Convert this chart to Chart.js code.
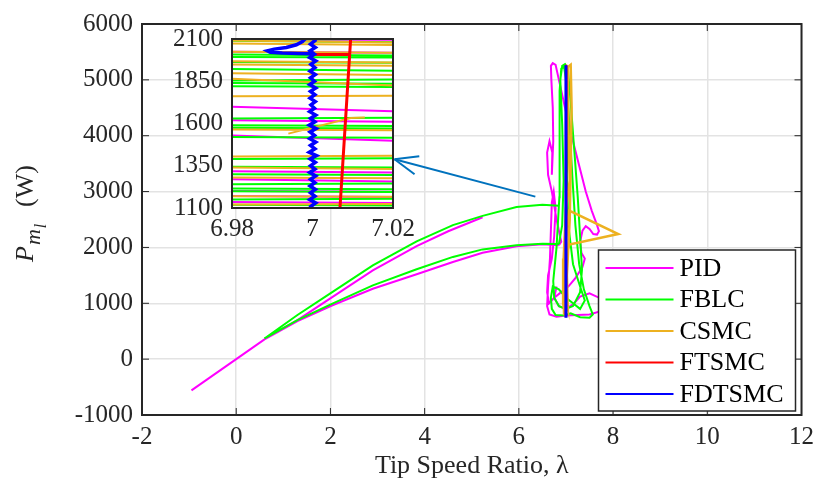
<!DOCTYPE html>
<html>
<head>
<meta charset="utf-8">
<script src="https://cdn.jsdelivr.net/npm/chart.js@4.4.1/dist/chart.umd.min.js"></script>
<style>
body { margin: 0; background: #fff; }
#wrap { position: relative; width: 821px; height: 491px; }
#wrap canvas { position: absolute; left: 0; top: 0; }
</style>
</head>
<body>
<div id="wrap">
<canvas id="mainChart" width="821" height="491"></canvas>
<canvas id="insetChart" width="821" height="491"></canvas>
</div>
<script>
const seriesNames = ['PID', 'FBLC', 'CSMC', 'FTSMC', 'FDTSMC'];
const seriesColors = ['#ff00ff', '#00ff00', '#edb120', '#ff0000', '#0000ff'];

const xTicksMain = [-2, 0, 2, 4, 6, 8, 10, 12];
const yTicksMain = [-1000, 0, 1000, 2000, 3000, 4000, 5000, 6000];
const xTicksInset = [6.98, 7, 7.02];
const yTicksInset = [1100, 1350, 1600, 1850, 2100];

// arrow from the cluster to the zoom box, in (lambda, P)
const arrowTail = [6.35, 2910];
const arrowHead = [3.36, 3578];

// main trajectories: [lambda, P], null breaks the line
const pidBranches = [
    [5.23, 2540], [4.5, 2290], [3.83, 2025], [2.9, 1590], [2.03, 1105], [1.3, 700], [0.6, 355], [0, 0], [-0.95, -560], null,
    [0.6, 355], [1.3, 680], [2.03, 960], [2.9, 1260], [3.83, 1520], [4.6, 1740], [5.23, 1905], [5.95, 2020], [6.5, 2055], [6.85, 2040]
];
const pidCluster = [
    [6.85, 2040], [6.9, 2100], [6.8, 2500], [6.7, 3000], [6.62, 3300], [6.6, 3700], [6.65, 3900], [6.71, 3700], [6.7, 3300],
    [6.73, 3900], [6.72, 4500], [6.69, 5000], [6.68, 5250], [6.72, 5300], [6.78, 5270], [6.85, 5000], [6.98, 4500], [7.12, 4000],
    [7.27, 3500], [7.42, 3000], [7.55, 2650], [7.66, 2400], [7.7, 2290], [7.66, 2230], [7.58, 2240], [7.5, 2330], [7.42, 2380],
    [7.35, 2300], [7.3, 2100], [7.33, 1900], [7.4, 1800], [7.35, 1650], [7.2, 1450], [7.05, 1300], [6.9, 1200], [6.75, 1100],
    [6.64, 1000], [6.6, 1200], [6.62, 1500], [6.7, 1800], [6.75, 2200], [6.78, 2700], [6.74, 3000], [6.7, 2800], [6.68, 2300],
    [6.66, 1800], [6.62, 1300], [6.6, 950], [6.65, 800], [6.8, 760], [7.0, 780], [7.25, 790], [7.5, 800], [7.7, 850], [7.78, 950],
    [7.7, 1100], [7.5, 1180], [7.3, 1120], [7.15, 980], [7.0, 900], [6.85, 950], [6.75, 1100], [6.8, 1300]
];
const fblcBranches = [
    [6.85, 2745], [6.5, 2762], [5.95, 2725], [5.23, 2565], [4.6, 2400], [3.83, 2110], [2.9, 1680], [2.03, 1195], [1.3, 790], [0.6, 370],
    [1.3, 700], [2.03, 990], [2.9, 1320], [3.83, 1610], [4.6, 1830], [5.23, 1965], [5.95, 2040], [6.5, 2065], [6.85, 2060]
];
const fblcCluster = [
    [6.85, 2060], [6.92, 2400], [6.95, 3200], [6.92, 4200], [6.88, 5000], [6.92, 5250], [6.98, 5280], [7.04, 5200], [7.1, 4600],
    [7.18, 3700], [7.25, 2900], [7.3, 2200], [7.34, 1600], [7.3, 1200], [7.15, 950], [7.0, 900], [6.85, 950], [6.75, 1100],
    [6.73, 1400], [6.8, 2000], [6.86, 2900], [6.87, 3900], [6.86, 4800], [6.9, 5200], [6.96, 5230], [7.02, 4900], [7.08, 4100],
    [7.14, 3200], [7.2, 2400], [7.28, 1700], [7.38, 1250], [7.5, 950], [7.57, 800], [7.5, 740], [7.3, 750], [7.1, 820], [6.95, 780],
    [6.78, 790], [6.7, 900], [6.68, 1100], [6.72, 1300], [6.85, 1250], [7.0, 1100], [7.15, 1000], [7.3, 900], [7.4, 1050],
    [7.3, 1300], [7.15, 1700], [7.05, 2400], [7.02, 3300], [7.05, 4200], [7.0, 5000], [6.97, 5260]
];
const csmcMain = [
    [6.96, 790], [6.94, 1300], [6.97, 1900], [7.02, 2400], [7.07, 2660], [8.11, 2240], [7.07, 2050], [6.95, 1600], [6.98, 1100],
    [7.04, 900], [7.02, 1500], [7.08, 2500], [7.1, 3500], [7.12, 4500], [7.1, 5270], [7.04, 5230], [7.05, 4200], [7.08, 3200],
    [7.0, 2700], [6.95, 1800], [6.94, 1000], [6.98, 780]
];
const ftsmcMain = [[7.0, 750], [7.005, 5270]];
const fdtsmcMain = [[7.0, 742], [7.0, 5262]];

// zoomed box: lambda 6.98..7.02, P 1100..2100
const pidInset = [
    [6.95, 2095], [7.05, 2095], [7.05, 2015], [6.95, 2028], [6.95, 1718], [7.05, 1653], [7.05, 1604], [6.95, 1626],
    [6.95, 1553], [7.05, 1475], [7.05, 1304], [6.95, 1324], [6.95, 1280], [7.05, 1247], [7.05, 1192], [6.95, 1205],
    [6.95, 1175], [7.05, 1160], [7.05, 1126], [6.95, 1139]
];
const fblcInset = [
    [6.95, 2095], [7.05, 2075], [7.05, 1997], [6.95, 2013], [6.95, 1997], [7.05, 1987], [7.05, 1957], [6.95, 1967],
    [6.95, 1930], [7.05, 1905], [7.05, 1865], [6.95, 1850], [6.95, 1843], [7.05, 1832], [7.05, 1812], [6.95, 1823],
    [6.95, 1627], [7.05, 1638], [7.05, 1582], [6.95, 1593], [6.95, 1578], [7.05, 1567], [7.05, 1512], [6.95, 1523],
    [6.95, 1387], [7.05, 1398], [7.05, 1337], [6.95, 1348], [6.95, 1303], [7.05, 1292], [7.05, 1248], [6.95, 1237],
    [6.95, 1218], [7.05, 1207], [7.05, 1192], [6.95, 1203], [6.95, 1147], [7.05, 1158], [7.05, 1112], [6.95, 1123]
];
const csmcInset = [
    [6.95, 2100], [7.05, 2070], [7.05, 2058], [6.95, 2080], [6.95, 2028], [7.05, 2015], [7.05, 1955], [6.95, 1975],
    [6.95, 1955], [7.05, 1935], [7.05, 1880], [6.95, 1905], [6.95, 1895], [7.05, 1795], [7.05, 1767], [6.95, 1758],
    [6.95, 1567], [7.05, 1557], [7.05, 1413], [6.95, 1402], [6.95, 1345], [7.05, 1325], [7.05, 1272], [6.95, 1285],
    [6.95, 1173], [7.05, 1163], [7.05, 1127], [6.95, 1118], null,
    [6.994, 1540], [7.0095, 1632], [7.013, 1636]
];
const ftsmcInset = [[7.0068, 1090], [7.0095, 2110], null, [7.0005, 2009], [7.0091, 2009]];
const fdtsmcInset = [
    [6.9986, 2110], [6.9975, 2085], [6.996, 2066], [6.9935, 2050], [6.9905, 2040], [6.9888, 2030], [6.9895, 2022],
    [6.9925, 2017], [6.9965, 2014], [7.0, 2012], null,
    [7.0, 2110], [7.0006, 2090], [6.9995, 2070], [7.0007, 2050], [6.9994, 2030], [7.0005, 2010], [6.9993, 1990],
    [7.0008, 1970], [6.9996, 1950], [7.0006, 1930], [6.9994, 1910], [7.0007, 1890], [6.9995, 1870], [7.0005, 1850],
    [6.9993, 1830], [7.0008, 1810], [6.9995, 1790], [7.0006, 1770], [6.9994, 1750], [7.0007, 1730], [6.9996, 1710],
    [7.0005, 1690], [6.9993, 1670], [7.0008, 1650], [6.9995, 1630], [7.0006, 1610], [6.9992, 1590], [7.0009, 1570],
    [6.9994, 1550], [7.0005, 1530], [6.9993, 1510], [7.0008, 1490], [6.9995, 1470], [7.0006, 1450], [6.9992, 1430],
    [7.001, 1410], [6.9994, 1390], [7.0007, 1370], [6.9995, 1350], [7.0006, 1330], [6.9993, 1310], [7.0008, 1290],
    [6.9995, 1270], [7.0006, 1250], [6.9994, 1230], [7.0007, 1210], [6.9995, 1190], [7.0006, 1170], [6.9993, 1150],
    [7.0008, 1130], [6.9996, 1110], [7.0003, 1090]
];

const FONT = '"Liberation Serif", "Times New Roman", serif';
const TEXT = '#262626';

function toPoints(pairs) {
    return pairs.map(p => p ? { x: p[0], y: p[1] } : { x: null, y: null });
}

// Chart.js paints dataset 0 last, so the list goes from top-most to bottom-most
function lineSet(pairs, series, width) {
    return {
        label: seriesNames[series],
        data: toPoints(pairs),
        showLine: true,
        borderColor: seriesColors[series],
        backgroundColor: seriesColors[series],
        borderWidth: width,
        pointRadius: 0
    };
}

function line(ctx, x1, y1, x2, y2) {
    ctx.beginPath();
    ctx.moveTo(x1, y1);
    ctx.lineTo(x2, y2);
    ctx.stroke();
}

const mainDecor = {
    id: 'mainDecor',
    afterDatasetsDraw(chart) {
        const ctx = chart.ctx;
        const a = chart.chartArea;
        const x = chart.scales.x, y = chart.scales.y;
        ctx.save();

        // arrow pointing at the zoom box
        const tx = x.getPixelForValue(arrowTail[0]), ty = y.getPixelForValue(arrowTail[1]);
        const hx = x.getPixelForValue(arrowHead[0]), hy = y.getPixelForValue(arrowHead[1]);
        ctx.strokeStyle = '#0072bd';
        ctx.lineWidth = 2;
        line(ctx, tx, ty, hx, hy);
        const ang = Math.atan2(ty - hy, tx - hx);
        [-0.38, 0.38].forEach(d => {
            line(ctx, hx, hy, hx + 25 * Math.cos(ang + d), hy + 25 * Math.sin(ang + d));
        });

        // inward ticks on all four sides, then the box
        ctx.strokeStyle = TEXT;
        ctx.lineWidth = 1;
        xTicksMain.forEach(v => {
            const px = x.getPixelForValue(v);
            line(ctx, px, a.bottom, px, a.bottom - 7);
            line(ctx, px, a.top, px, a.top + 7);
        });
        yTicksMain.forEach(v => {
            const py = y.getPixelForValue(v);
            line(ctx, a.left, py, a.left + 7, py);
            line(ctx, a.right, py, a.right - 7, py);
        });
        ctx.lineWidth = 2;
        ctx.strokeRect(a.left, a.top, a.right - a.left, a.bottom - a.top);
        ctx.restore();
    },
    afterDraw(chart) {
        const ctx = chart.ctx;
        const a = chart.chartArea;

        // legend box
        ctx.save();
        const lx = a.right - 203, ly = a.top + 226, lw = 197, lh = 161;
        ctx.fillStyle = '#fff';
        ctx.fillRect(lx, ly, lw, lh);
        ctx.strokeStyle = TEXT;
        ctx.lineWidth = 1.5;
        ctx.strokeRect(lx, ly, lw, lh);
        ctx.font = '26px ' + FONT;
        ctx.textBaseline = 'middle';
        seriesNames.forEach((name, i) => {
            const rowY = ly + 18 + i * 31.5;
            ctx.strokeStyle = seriesColors[i];
            ctx.lineWidth = 2;
            line(ctx, lx + 7, rowY, lx + 75, rowY);
            ctx.fillStyle = '#000';
            ctx.fillText(name, lx + 81, rowY + 1);
        });
        ctx.restore();

        // y axis title P_{m_l} (W)
        ctx.save();
        ctx.translate(33, 262);
        ctx.rotate(-Math.PI / 2);
        ctx.fillStyle = TEXT;
        ctx.textBaseline = 'alphabetic';
        ctx.font = 'italic 26px ' + FONT;
        ctx.fillText('P', 0, 0);
        const wP = ctx.measureText('P').width;
        ctx.font = 'italic 22px ' + FONT;
        ctx.fillText('m', wP + 1, 7);
        const wm = ctx.measureText('m').width;
        ctx.font = 'italic 16px ' + FONT;
        ctx.fillText('l', wP + wm + 2, 13);
        ctx.font = '26px ' + FONT;
        ctx.fillText('(W)', 55, 0);
        ctx.restore();
    }
};

const insetDecor = {
    id: 'insetDecor',
    beforeDatasetsDraw(chart) {
        const a = chart.chartArea;
        chart.ctx.save();
        chart.ctx.fillStyle = '#fff';
        chart.ctx.fillRect(a.left, a.top, a.right - a.left, a.bottom - a.top);
        chart.ctx.restore();
    },
    afterDatasetsDraw(chart) {
        const a = chart.chartArea;
        const ctx = chart.ctx;
        ctx.save();
        ctx.strokeStyle = TEXT;
        ctx.lineWidth = 2;
        ctx.strokeRect(a.left, a.top, a.right - a.left, a.bottom - a.top);
        ctx.restore();
    }
};

const tickFont = { family: FONT, size: 25 };

new Chart(document.getElementById('mainChart'), {
    type: 'scatter',
    data: {
        datasets: [
            lineSet(fdtsmcMain, 4, 3),
            lineSet(ftsmcMain, 3, 2.5),
            lineSet(csmcMain, 2, 2.5),
            lineSet(fblcCluster, 1, 2),
            lineSet(fblcBranches, 1, 2),
            lineSet(pidCluster, 0, 2),
            lineSet(pidBranches, 0, 2)
        ]
    },
    options: {
        responsive: false,
        animation: false,
        events: [],
        layout: { padding: { top: 20, right: 18, left: 0, bottom: 0 } },
        plugins: { legend: { display: false }, tooltip: { enabled: false } },
        scales: {
            x: {
                type: 'linear',
                min: xTicksMain[0],
                max: xTicksMain[xTicksMain.length - 1],
                afterBuildTicks: s => { s.ticks = xTicksMain.map(v => ({ value: v })); },
                afterFit: s => { s.height = 76; },
                grid: { color: '#e3e3e3', lineWidth: 1.5, drawTicks: false },
                border: { display: false },
                ticks: { font: tickFont, color: TEXT, padding: 7, maxRotation: 0, callback: v => String(v) },
                title: { display: true, text: 'Tip Speed Ratio, λ', font: { family: FONT, size: 26 }, color: TEXT, padding: { top: 0, bottom: 9 } }
            },
            y: {
                type: 'linear',
                min: yTicksMain[0],
                max: yTicksMain[yTicksMain.length - 1],
                afterBuildTicks: s => { s.ticks = yTicksMain.map(v => ({ value: v })); },
                afterFit: s => { s.width = 142; },
                grid: { color: '#e3e3e3', lineWidth: 1.5, drawTicks: false },
                border: { display: false },
                ticks: { font: tickFont, color: TEXT, padding: 9, callback: v => String(v) }
            }
        }
    },
    plugins: [mainDecor]
});

const insetSets = [
    lineSet(fdtsmcInset, 4, 3.5),
    lineSet(ftsmcInset, 3, 3),
    lineSet(csmcInset, 2, 2),
    lineSet(fblcInset, 1, 2),
    lineSet(pidInset, 0, 2)
];
insetSets.forEach(ds => { ds.clip = 0; });

new Chart(document.getElementById('insetChart'), {
    type: 'scatter',
    data: { datasets: insetSets },
    options: {
        responsive: false,
        animation: false,
        events: [],
        layout: { padding: { top: 39, right: 428, left: 152, bottom: 243 } },
        plugins: { legend: { display: false }, tooltip: { enabled: false } },
        scales: {
            x: {
                type: 'linear',
                min: xTicksInset[0],
                max: xTicksInset[xTicksInset.length - 1],
                afterBuildTicks: s => { s.ticks = xTicksInset.map(v => ({ value: v })); },
                afterFit: s => { s.height = 40; },
                grid: { display: false, drawTicks: false },
                border: { display: false },
                ticks: { font: tickFont, color: TEXT, padding: 6, maxRotation: 0, callback: v => String(+v.toFixed(2)) }
            },
            y: {
                type: 'linear',
                min: yTicksInset[0],
                max: yTicksInset[yTicksInset.length - 1],
                afterBuildTicks: s => { s.ticks = yTicksInset.map(v => ({ value: v })); },
                afterFit: s => { s.width = 80; },
                grid: { display: false, drawTicks: false },
                border: { display: false },
                ticks: { font: tickFont, color: TEXT, padding: 9, callback: v => String(v) }
            }
        }
    },
    plugins: [insetDecor]
});
</script>
</body>
</html>
